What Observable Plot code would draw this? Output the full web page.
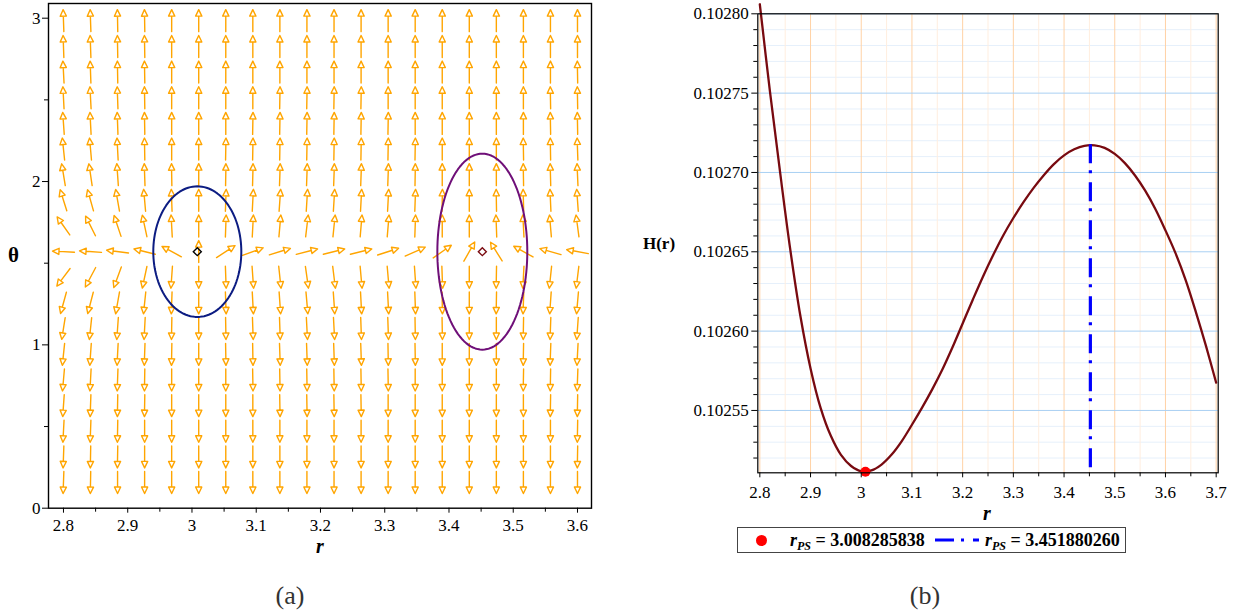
<!DOCTYPE html>
<html><head><meta charset="utf-8">
<script src="https://cdn.jsdelivr.net/npm/d3@7"></script>
<script src="https://cdn.jsdelivr.net/npm/@observablehq/plot@0.6"></script>
<style>
body{margin:0;background:#fff;}
#root{position:relative;width:1242px;height:613px;overflow:hidden;font-family:"Liberation Serif","Times New Roman",serif;background:#fff;}
.abs{position:absolute;}
.ctr{position:absolute;transform:translate(-50%,-50%);line-height:1;white-space:nowrap;}
svg text{font-family:"Liberation Serif","Times New Roman",serif;}
</style></head><body><div id="root"></div>
<script>
// ---------- Panel (a) data : vector field ----------
const rGrid = [2.8, 2.8421, 2.8842, 2.9263, 2.9684, 3.0105, 3.0526, 3.0947, 3.1368, 3.1789,
               3.2211, 3.2632, 3.3053, 3.3474, 3.3895, 3.4316, 3.4737, 3.5158, 3.5579, 3.6];
const thetaRows = [2.985, 2.827, 2.670, 2.513, 2.356, 2.199, 2.042, 1.885, 1.728, 1.571,
                   1.414, 1.257, 1.100, 0.942, 0.785, 0.628, 0.471, 0.314, 0.157];
// arrow directions in degrees (0 = up, 90 = right, 180 = down, -90 = left), one row per theta
const arrowAngles = [
  [-2,-2,-1,-1,0,0,0,0,0,0,0,0,0,0,0,0,0,0,0,0],
  [-2,-2,-1,-1,0,0,0,0,0,0,0,0,0,0,0,0,0,0,0,0],
  [-3,-2,-1,-1,0,0,0,0,0,0,0,0,0,0,0,0,0,0,0,-1],
  [-3,-3,-2,-1,0,0,0,0,1,1,1,1,0,0,0,0,0,0,-1,-1],
  [-4,-3,-2,-1,0,0,0,1,1,1,1,1,1,0,0,0,0,0,-1,-1],
  [-6,-5,-3,-1,0,0,1,1,1,1,1,1,1,1,0,0,0,-1,-1,-2],
  [-9.5,-8.5,-4,-2,-1,0,1,1.5,2,2,2,2,2,1,0,0,0,-1,-1.5,-2.5],
  [-17.5,-15.7,-10,-5,-2,0,2,3,4,3.5,3.5,3,3,2,1,0,-1,-1.5,-2.5,-4],
  [-35,-26.6,-18.4,-12,-3,0,2,3,5,6.7,5.7,4.8,4.8,2,0,0,-2,-3,-4.8,-7.6],
  [-87,-86,-83,-76,-62,0,57,70,73,75.6,76,76,72,66,55,29.5,-31.7,-61,-74,-79.5],
  [-143,-152,-160,-168,-176,180,178,176,174,172,173,175,175,176,178,180,-179,-177,-174,-173],
  [-164.6,-165.5,-170,-174,-178,180,178,177,176,175,176,177,177,178,179,180,-179,-178,-176,-175],
  [-171,-174,-176,-177,-179,180,179,178,178,177,177,178,178,179,179,180,180,-179,-178,-176],
  [-174,-176,-177,-178,-179,180,179,179,178,178,178,178,179,179,180,180,180,-179,-178,-177],
  [-175,-177,-178,-179,180,180,180,179,179,179,179,179,179,180,180,180,180,-179,-179,-178],
  [-176,-178,-179,-179,180,180,180,180,179,179,179,179,180,180,180,180,180,180,-179,-179],
  [-177,-178,-179,180,180,180,180,180,180,180,180,180,180,180,180,180,180,180,180,-179],
  [-178,-179,-179,180,180,180,180,180,180,180,180,180,180,180,180,180,180,180,180,-179],
  [-178,-179,180,180,180,180,180,180,180,180,180,180,180,180,180,180,180,180,180,180]
];
const criticalR = [3.008285838, 3.451880260];
const criticalTheta = [1.5708, 1.5708];
const ellipseHalfR = [0.0685, 0.070];
const ellipseHalfTheta = [0.40, 0.60];

const xTicksA = [2.8, 2.9, 3, 3.1, 3.2, 3.3, 3.4, 3.5, 3.6];
const xTickLabelsA = ["2.8", "2.9", "3", "3.1", "3.2", "3.3", "3.4", "3.5", "3.6"];
const xMinorA = [2.85, 2.95, 3.05, 3.15, 3.25, 3.35, 3.45, 3.55];
const yTicksA = [0, 1, 2, 3];
const yTickLabelsA = ["0", "1", "2", "3"];
const yMinorA = [0.5, 1.5, 2.5];

// ---------- Panel (b) data : H(r) ----------
const rValues = [2.80,2.82,2.84,2.86,2.88,2.90,2.92,2.94,2.96,2.98,3.00,3.02,3.04,3.06,3.08,3.10,3.12,3.14,3.16,3.18,
                 3.20,3.22,3.24,3.26,3.28,3.30,3.32,3.34,3.36,3.38,3.40,3.42,3.44,3.46,3.48,3.50,3.52,3.54,3.56,3.58,
                 3.60,3.62,3.64,3.66,3.68,3.70];
const hValues = [0.1028060,0.1027510,0.1027000,0.1026515,0.1026095,0.1025765,0.1025515,0.1025340,0.1025220,0.1025150,
                 0.1025117,0.1025122,0.1025159,0.1025222,0.1025307,0.1025410,0.1025518,0.1025633,0.1025758,0.1025898,
                 0.1026048,0.1026198,0.1026343,0.1026478,0.1026603,0.1026713,0.1026813,0.1026903,0.1026983,0.1027053,
                 0.1027108,0.1027146,0.1027168,0.1027171,0.1027155,0.1027117,0.1027059,0.1026981,0.1026885,0.1026770,
                 0.1026635,0.1026490,0.1026320,0.1026120,0.1025905,0.1025675];
const rMinPS = 3.008285838, hMinPS = 0.1025114;
const rMaxPS = 3.451880260, hMaxPS = 0.1027174;
const legendLabels = ["3.008285838", "3.451880260"];

const xTicksB = [2.8, 2.9, 3, 3.1, 3.2, 3.3, 3.4, 3.5, 3.6, 3.7];
const xTickLabelsB = ["2.8", "2.9", "3", "3.1", "3.2", "3.3", "3.4", "3.5", "3.6", "3.7"];
const xMinorB = [2.85, 2.95, 3.05, 3.15, 3.25, 3.35, 3.45, 3.55, 3.65];
const yTicksB = [0.10255, 0.10260, 0.10265, 0.10270, 0.10275, 0.10280];
const yTickLabelsB = ["0.10255", "0.10260", "0.10265", "0.10270", "0.10275", "0.10280"];
const yMinorB = [0.10252,0.10253,0.10254,0.10256,0.10257,0.10258,0.10259,0.10261,0.10262,0.10263,0.10264,
                 0.10266,0.10267,0.10268,0.10269,0.10271,0.10272,0.10273,0.10274,0.10276,0.10277,0.10278,0.10279];

// ---------- helpers ----------
const FONT = "Liberation Serif, Times New Roman, serif";
const fmt = (ticks, labels) => d => { const i = ticks.findIndex(t => Math.abs(t - d) < 1e-9); return i < 0 ? "" : labels[i]; };
const noLabel = () => "";
const root = document.getElementById("root");
function place(el, left, top) { const w = document.createElement("div"); w.className = "abs"; w.style.left = left + "px"; w.style.top = top + "px"; w.appendChild(el); root.appendChild(w); }
function label(html, cx, cy, css) { const d = document.createElement("div"); d.className = "ctr"; d.style.left = cx + "px"; d.style.top = cy + "px"; d.style.cssText += css; d.innerHTML = html; root.appendChild(d); }

// ---------- build panel (a) ----------
const arrows = [];
thetaRows.forEach((t, i) => rGrid.forEach((r, j) => arrows.push({r, t, a: arrowAngles[i][j]})));
const ellipses = [];
criticalR.forEach((c, k) => {
  for (let s = 0; s <= 120; s++) {
    const u = 2 * Math.PI * s / 120;
    ellipses.push({k, r: c + ellipseHalfR[k] * Math.cos(u), t: criticalTheta[k] + ellipseHalfTheta[k] * Math.sin(u)});
  }
});
const centers = criticalR.map((c, k) => ({k, r: c, t: criticalTheta[k]}));

const arrowShape = {
  draw(ctx, l) {
    const h = 6.5, w = 3.1;
    ctx.moveTo(0, 0);
    ctx.lineTo(0, -(l - h));
    ctx.moveTo(-w, -(l - h));
    ctx.lineTo(w, -(l - h));
    ctx.lineTo(0, -l);
    ctx.closePath();
  }
};

const plotA = Plot.plot({
  width: 620, height: 560,
  marginLeft: 48, marginRight: 29, marginTop: 3, marginBottom: 52.3,
  x: {domain: [2.7767, 3.6218], label: null},
  y: {domain: [0, 3.09], label: null},
  style: {fontFamily: FONT, fontSize: "17px", color: "black", background: "white", overflow: "visible"},
  marks: [
    Plot.vector(arrows, {x: "r", y: "t", rotate: "a", length: 22, anchor: "middle", shape: arrowShape,
                         stroke: "#ffa500", strokeWidth: 1.4, fill: "none"}),
    Plot.line(ellipses.filter(d => d.k === 0), {x: "r", y: "t", stroke: "#0c1c82", strokeWidth: 2}),
    Plot.line(ellipses.filter(d => d.k === 1), {x: "r", y: "t", stroke: "#6f0f78", strokeWidth: 2}),
    Plot.dot(centers.filter(d => d.k === 0), {x: "r", y: "t", symbol: "diamond2", r: 3.6, stroke: "black", strokeWidth: 1.4}),
    Plot.dot(centers.filter(d => d.k === 1), {x: "r", y: "t", symbol: "diamond2", r: 3.6, stroke: "#7a0a10", strokeWidth: 1.4}),
    Plot.frame({stroke: "black", strokeWidth: 1.4}),
    Plot.axisX({ticks: xTicksA, tickFormat: fmt(xTicksA, xTickLabelsA), tickSize: 5, tickPadding: 6, label: null, fontFamily: FONT}),
    Plot.axisX({ticks: xMinorA, tickFormat: noLabel, tickSize: 4, label: null}),
    Plot.axisY({ticks: yTicksA, tickFormat: fmt(yTicksA, yTickLabelsA), tickSize: 6, tickPadding: 2, label: null, fontFamily: FONT}),
    Plot.axisY({ticks: yMinorA, tickFormat: noLabel, tickSize: 4, label: null})
  ]
});
place(plotA, 0, 0);

// ---------- build panel (b) ----------
const hData = rValues.map((r, i) => ({r, h: hValues[i]}));
const plotB = Plot.plot({
  width: 622, height: 530,
  marginLeft: 137.3, marginRight: 24.3, marginTop: 13.3, marginBottom: 57.7,
  x: {domain: [2.796, 3.704], label: null},
  y: {domain: [0.1025107, 0.10280], label: null},
  style: {fontFamily: FONT, fontSize: "17px", color: "black", background: "white", overflow: "visible"},
  marks: [
    Plot.gridY({ticks: yMinorB, stroke: "#e6f0fb", strokeOpacity: 1}),
    Plot.gridX({ticks: xMinorB, stroke: "#ffeedf", strokeOpacity: 1}),
    Plot.gridX({ticks: xTicksB, stroke: "#ffd2a6", strokeOpacity: 1}),
    Plot.gridY({ticks: yTicksB, stroke: "#a9d0f3", strokeOpacity: 1}),
    Plot.line(hData, {x: "r", y: "h", stroke: "#780a10", strokeWidth: 2.3, curve: "catmull-rom"}),
    Plot.ruleX([rMaxPS], {x: d => d, y1: hMaxPS, y2: 0.1025107, stroke: "#0000ff", strokeWidth: 3.2, strokeDasharray: "19,7,3,9"}),
    Plot.dot([{r: rMinPS, h: hMinPS}], {x: "r", y: "h", r: 5, fill: "red", stroke: "none"}),
    Plot.frame({stroke: "black", strokeWidth: 1.2}),
    Plot.axisX({ticks: xTicksB, tickFormat: fmt(xTicksB, xTickLabelsB), tickSize: 5, tickPadding: 8, label: null, fontFamily: FONT}),
    Plot.axisX({ticks: xMinorB, tickFormat: noLabel, tickSize: 4, label: null}),
    Plot.axisY({ticks: yTicksB, tickFormat: fmt(yTicksB, yTickLabelsB), tickSize: 6, tickPadding: 3, label: null, fontFamily: FONT}),
    Plot.axisY({ticks: yMinorB, tickFormat: noLabel, tickSize: 4, label: null})
  ]
});
place(plotB, 620, 0);

// ---------- axis titles & captions ----------
label("θ", 13.5, 255, "font-weight:bold;font-size:21px;");
label("r", 320, 546, "font-weight:bold;font-style:italic;font-size:20px;");
label("H(r)", 659, 243, "font-weight:bold;font-size:17px;");
label("r", 987, 513, "font-weight:bold;font-style:italic;font-size:20px;");
label("(a)", 290, 596, "font-size:26px;color:#333;");
label("(b)", 925, 596, "font-size:26px;color:#333;");

// ---------- legend ----------
const lg = document.createElement("div");
lg.className = "abs";
lg.style.cssText += "left:737px;top:527px;width:387px;height:24px;border:1.5px solid #444;background:#fff;";
root.appendChild(lg);
const item = (txt) => `<span style="font-style:italic">r</span><sub style="font-style:italic;font-size:12px;vertical-align:-4px">PS</sub> = ${txt}`;
const dot = document.createElement("div");
dot.className = "abs";
dot.style.cssText += "left:756px;top:534.5px;width:11px;height:11px;border-radius:50%;background:red;";
root.appendChild(dot);
const t1 = document.createElement("div"); t1.className = "abs";
t1.style.cssText += "left:790px;top:531px;font-weight:bold;font-size:18px;line-height:18px;white-space:nowrap;";
t1.innerHTML = item(legendLabels[0]); root.appendChild(t1);
const ls = document.createElementNS("http://www.w3.org/2000/svg", "svg");
ls.setAttribute("width", "44"); ls.setAttribute("height", "10");
ls.style.cssText = "position:absolute;left:935px;top:535px;";
ls.innerHTML = '<line x1="0" y1="5" x2="44" y2="5" stroke="#0000ff" stroke-width="3.2" stroke-dasharray="19,7,3,9"/>';
root.appendChild(ls);
const t2 = document.createElement("div"); t2.className = "abs";
t2.style.cssText += "left:985px;top:531px;font-weight:bold;font-size:18px;line-height:18px;white-space:nowrap;";
t2.innerHTML = item(legendLabels[1]); root.appendChild(t2);
</script></body></html>
